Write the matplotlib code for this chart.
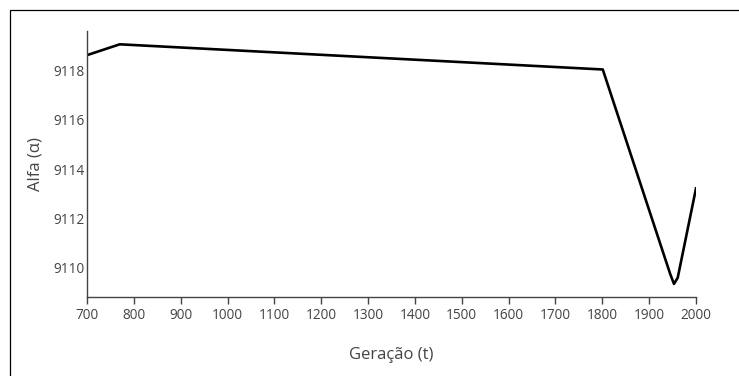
import numpy as np
import matplotlib
matplotlib.use("Agg")
import matplotlib.pyplot as plt
from matplotlib.patches import Rectangle

# alpha value per generation (knots of the curve)
geracao = [700, 770, 1801, 1945, 1953, 1961, 2000]
alfa = [9118.62, 9119.06, 9118.04, 9109.75, 9109.35, 9109.6, 9113.22]

x_ticks = [700, 800, 900, 1000, 1100, 1200, 1300, 1400, 1500, 1600, 1700, 1800, 1900, 2000]
y_ticks = [9110, 9112, 9114, 9116, 9118]

plt.rcParams['font.family'] = ['Open Sans', 'DejaVu Sans']
axis_gray = "#444444"

fig = plt.figure(figsize=(7.39, 3.76), dpi=100)
ax = fig.add_axes([0.1177, 0.2101, 0.8241, 0.7075])

ax.plot(geracao, alfa, color="black", linewidth=1.9, solid_joinstyle="round")

ax.set_xlim(700, 2000)
ax.set_ylim(9108.82, 9119.6)
ax.set_xticks(x_ticks)
ax.set_yticks(y_ticks)

for side in ("top", "right"):
    ax.spines[side].set_visible(False)
for side in ("left", "bottom"):
    ax.spines[side].set_color(axis_gray)
    ax.spines[side].set_linewidth(1.0)

ax.tick_params(axis="x", colors=axis_gray, labelsize=9.8, length=5, width=1, pad=3)
ax.tick_params(axis="y", colors=axis_gray, labelsize=9.8, length=0, pad=2)

ax.set_xlabel("Geração (t)", fontsize=12, color=axis_gray, labelpad=17)
ax.set_ylabel("Alfa (α)", fontsize=12, color=axis_gray, labelpad=7)

# outer frame
fig.patches.append(Rectangle((9.5 / 739, -0.5), 2, 0.5 + (1 - 9.5 / 376),
                             transform=fig.transFigure, fill=False,
                             edgecolor="black", linewidth=0.9))

fig.savefig("out.png", dpi=100)
